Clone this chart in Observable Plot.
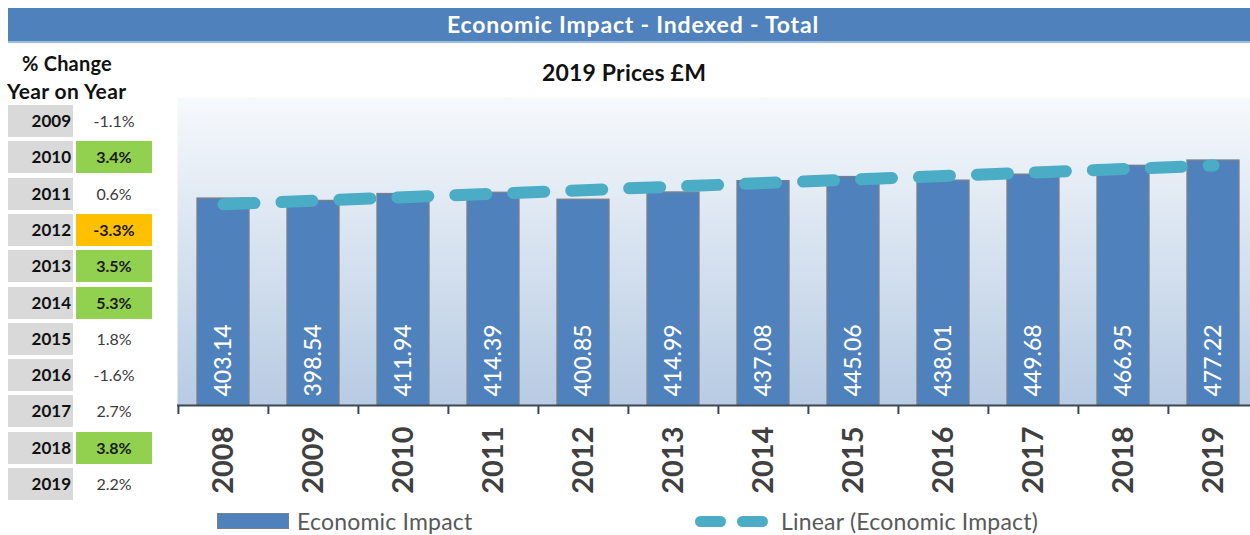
<!DOCTYPE html>
<html>
<head>
<meta charset="utf-8">
<script src="https://cdn.jsdelivr.net/npm/d3@7"></script>
<script src="https://cdn.jsdelivr.net/npm/@observablehq/plot@0.6"></script>
<style>
  html, body { margin: 0; padding: 0; background: #fff; overflow: hidden; }
  #root { position: relative; width: 1250px; height: 535px; overflow: hidden; font-family: Lato, "Open Sans", sans-serif; }
  .abs { position: absolute; white-space: nowrap; }
  #chart { position: absolute; left: 0; top: 0; width: 1262px; }
  #chart svg { max-width: none !important; }
</style>
</head>
<body>
<div id="root">
  <div id="chart"></div>
</div>
<script>
// ---- data ----
const years = ["2008","2009","2010","2011","2012","2013","2014","2015","2016","2017","2018","2019"];
const impact = [403.14, 398.54, 411.94, 414.39, 400.85, 414.99, 437.08, 445.06, 438.01, 449.68, 466.95, 477.22];
const changeYears = ["2009","2010","2011","2012","2013","2014","2015","2016","2017","2018","2019"];
const changePct = [-1.1, 3.4, 0.6, -3.3, 3.5, 5.3, 1.8, -1.6, 2.7, 3.8, 2.2];
const titleText = "Economic Impact - Indexed - Total";
const subtitleText = "2019 Prices £M";
const seriesName = "Economic Impact";
const trendName = "Linear (Economic Impact)";

// ---- derived ----
const table = years.map((year, i) => ({year, value: impact[i], idx: i}));
const mx = d3.mean(table, d => d.idx), my = d3.mean(impact);
const slope = d3.sum(table, d => (d.idx - mx) * (d.value - my)) / d3.sum(table, d => (d.idx - mx) ** 2);
const intercept = my - slope * mx;
const trend = table.map(d => ({year: d.year, fit: intercept + slope * d.idx}));

const W = 1262, ML = 177, MR = 3;
const step = (W - ML - MR) / years.length;

const defs = () => {
  const d = d3.create("svg:defs");
  const g = d.append("linearGradient").attr("id", "bgGrad").attr("x1", 0).attr("y1", 0).attr("x2", 0).attr("y2", 1);
  g.append("stop").attr("offset", "0%").attr("stop-color", "#f6f9fc");
  g.append("stop").attr("offset", "100%").attr("stop-color", "#b7cbe3");
  return d.node();
};

const chart = Plot.plot({
  width: W, height: 535,
  marginLeft: ML, marginRight: MR, marginTop: 97, marginBottom: 130,
  x: {domain: years, paddingInner: 0.42, paddingOuter: 0.21, axis: null},
  y: {domain: [0, 600], axis: null},
  style: {fontFamily: "Lato, sans-serif", background: "transparent", overflow: "visible"},
  marks: [
    defs,
    Plot.frame({fill: "url(#bgGrad)", stroke: "none"}),
    Plot.barY(table, {x: "year", y: "value", fill: "#4f81bd", stroke: "#7a7f87", strokeWidth: 1.3}),
    Plot.text(table, {x: "year", y: 0, text: d => d.value.toFixed(2), rotate: -90, textAnchor: "start", dy: -9, fill: "white", fontSize: 23, fontWeight: 500}),
    Plot.line(trend, {x: "year", y: "fit", stroke: "#4bacc6", strokeWidth: 12, strokeDasharray: "31,27", strokeLinecap: "round"}),
    Plot.ruleY([0], {stroke: "#3d4856", strokeWidth: 2}),
    Plot.ruleX(years, {x: d => d, y1: 0, y2: 0, insetTop: 9, dx: -step / 2, stroke: "#3d4856", strokeWidth: 2}),
    Plot.text(table, {x: "year", y: 0, text: "year", rotate: -90, textAnchor: "end", dy: 21, fontSize: 29, fontWeight: "bold", fill: "#404040"})
  ]
});
document.getElementById("chart").appendChild(chart);

// ---- HTML furniture ----
const root = document.getElementById("root");
function add(html, style) {
  const el = document.createElement("div");
  el.className = "abs";
  el.innerHTML = html;
  Object.assign(el.style, style);
  root.appendChild(el);
  return el;
}
// title bar
add(titleText, {left: "8px", top: "8px", width: "1250px", height: "33px", lineHeight: "33px", background: "#4f81bd",
  borderBottom: "2px solid #9dbbe0", color: "#fff", fontWeight: "bold", fontSize: "23px", letterSpacing: "0.8px",
  textAlign: "center", paddingRight: "8px", boxSizing: "content-box"});
// subtitle
add(subtitleText, {left: "424px", width: "400px", top: "58px", height: "28px", lineHeight: "28px", textAlign: "center",
  fontWeight: "bold", fontSize: "23px", letterSpacing: "0.2px", color: "#111"});
// table header
add("% Change", {left: "0px", width: "134px", top: "49px", height: "28px", lineHeight: "28px", textAlign: "center",
  fontWeight: "bold", fontSize: "20px", letterSpacing: "0.2px", color: "#111"});
add("Year on Year", {left: "7px", top: "77px", height: "28px", lineHeight: "28px", fontWeight: "bold", fontSize: "21px",
  letterSpacing: "0.4px", color: "#111"});
// table rows
changeYears.forEach((yr, i) => {
  const top = 105 + i * 36.3;
  const v = changePct[i];
  const bg = v >= 3 ? "#92d050" : v <= -3 ? "#ffc000" : "transparent";
  add(yr, {left: "8px", top: top + "px", width: "63px", height: "32px", lineHeight: "32px", paddingRight: "2px",
    background: "#d9d9d9", textAlign: "right", fontWeight: "bold", fontSize: "17px", color: "#111"});
  add(v.toFixed(1) + "%", {left: "76px", top: top + "px", width: "76px", height: "32px", lineHeight: "32px",
    background: bg, textAlign: "center", fontSize: "16px", fontWeight: bg === "transparent" ? "normal" : "bold",
    color: bg === "transparent" ? "#3a3a3a" : "#1a1a1a"});
});
// legend
add("", {left: "217px", top: "513px", width: "70px", height: "14px", background: "#4f81bd", border: "1px solid #7a7f87"});
add(seriesName, {left: "297px", top: "507px", height: "28px", lineHeight: "28px", fontSize: "23px", letterSpacing: "0.2px", color: "#595959"});
add("", {left: "695px", top: "516px", width: "31px", height: "11px", borderRadius: "6px", background: "#4bacc6"});
add("", {left: "737px", top: "516px", width: "31px", height: "11px", borderRadius: "6px", background: "#4bacc6"});
add(trendName, {left: "781px", top: "507px", height: "28px", lineHeight: "28px", fontSize: "23px", letterSpacing: "0.2px", color: "#595959"});
</script>
</body>
</html>
